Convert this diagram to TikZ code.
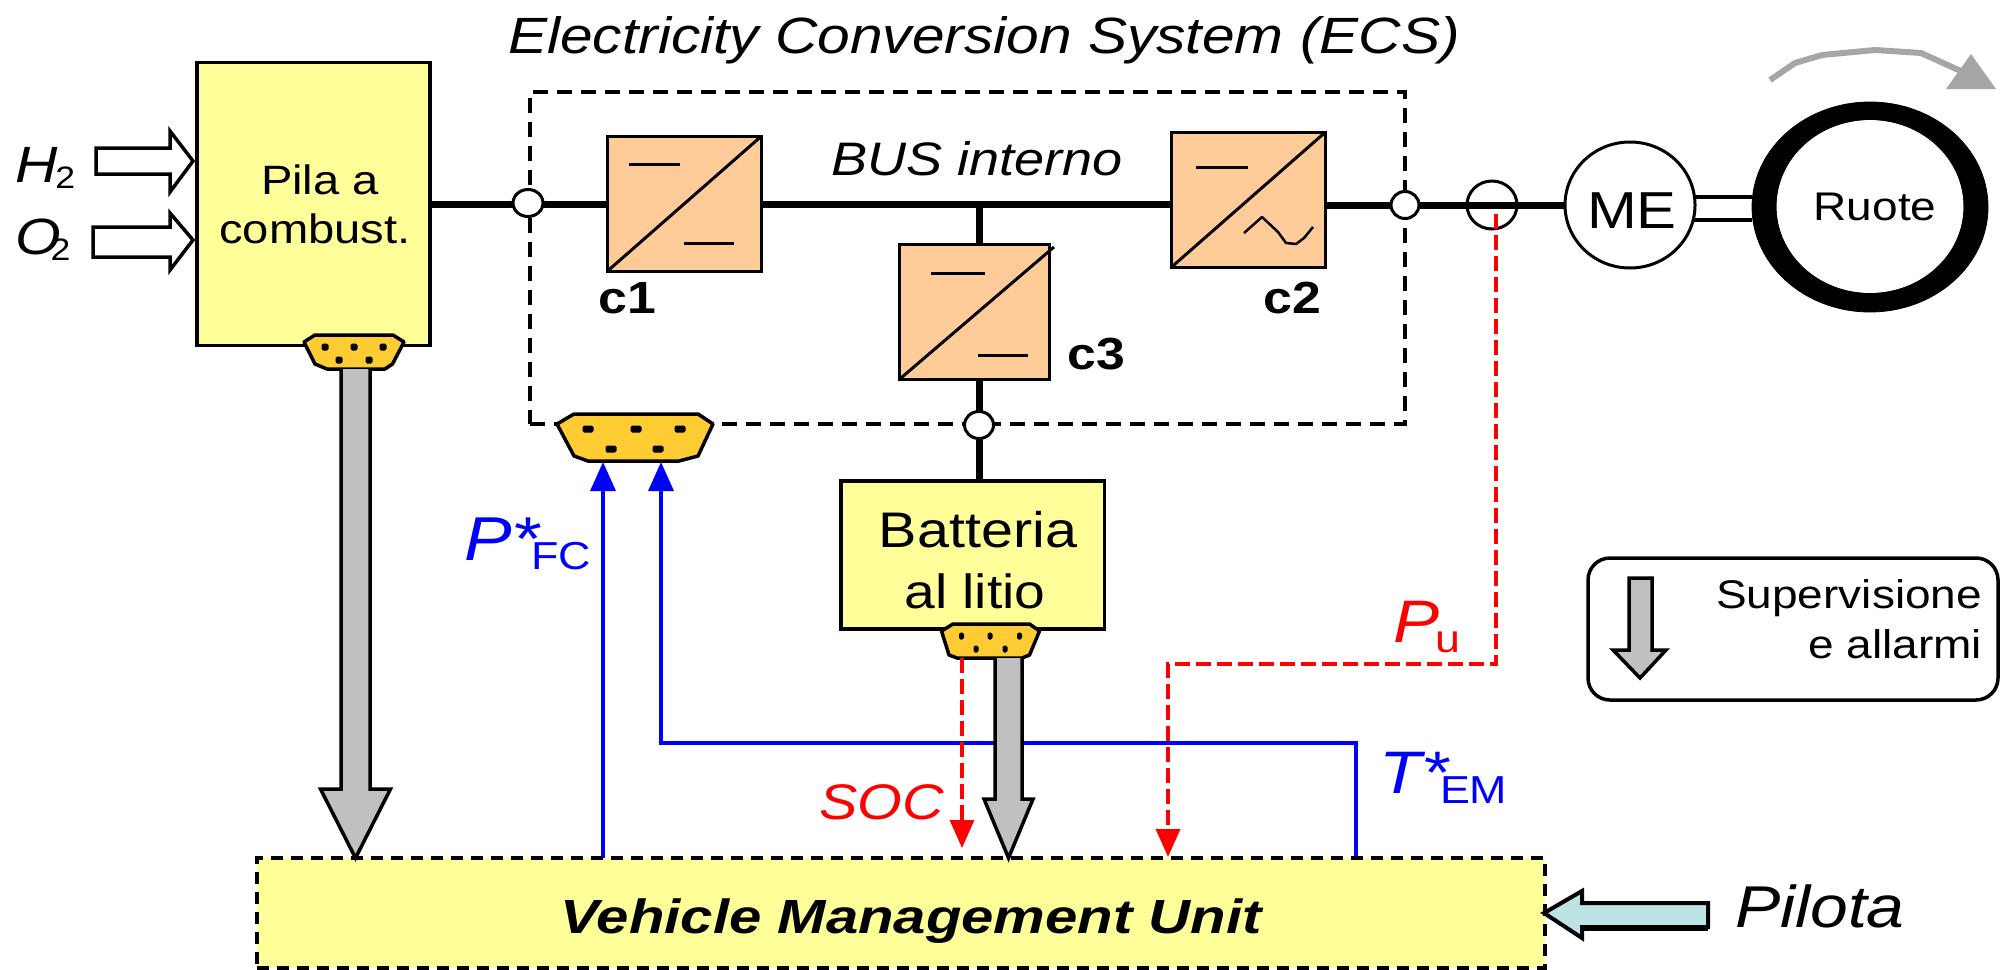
\documentclass[tikz,border=0pt]{standalone}
\usepackage{fontspec}
\setmainfont{Liberation Sans}[FakeStretch=1.15]
\newfontfamily\vmufont{Liberation Sans}[FakeStretch=1.21]
\usetikzlibrary{arrows.meta,backgrounds,calc,shapes.geometric}
\definecolor{cYellow}{HTML}{FFFF99}
\definecolor{cOrange}{HTML}{FFCC99}
\definecolor{cPlug}{HTML}{FFCC33}
\definecolor{cGray}{HTML}{C0C0C0}
\definecolor{cCurve}{HTML}{A6A6A6}
\definecolor{cPilot}{HTML}{BDE3E5}
\newcommand\fpx[1]{\fontsize{#1}{#1}\selectfont}
% gray block arrow from a source coordinate down to a target's top:
% source, target, head length, shaft half width, head half width
\newcommand\blockdown[5]{%
  \draw[blockarrow] let \p1=(#1), \p2=(#2) in
    (\x1-#4,\y1) -- (\x1-#4,\y2+#3) -- (\x1-#5,\y2+#3) -- (\x1,\y2)
    -- (\x1+#5,\y2+#3) -- (\x1+#4,\y2+#3) -- (\x1+#4,\y1) ;}
\newcommand\plug[1]{\draw[plugshape] #1 -- cycle;}
\newcommand\pins[2]{\foreach \px/\py in {#1} \fill[rounded corners=0.8pt] (\px-#2,\py-3.5) rectangle (\px+#2,\py+3.5);}
\tikzset{
  x=0.5pt,y=-0.5pt,
  wh/.style 2 args={minimum width=#1*0.5pt,minimum height=#2*0.5pt,inner sep=0pt,outer sep=0pt},
  yellowbox/.style={draw,fill=cYellow,line width=1.75pt},
  convbox/.style={draw,fill=cOrange,line width=1.5pt},
  ecsbox/.style={draw,line width=2pt,dash pattern=on 7.5pt off 4.5pt},
  vmubox/.style={draw,fill=cYellow,line width=2pt,dash pattern=on 6pt off 4pt},
  junction/.style={draw,fill=white,ellipse,line width=1.5pt},
  sensor/.style={draw,ellipse,line width=1.5pt},
  lbl/.style={inner sep=0pt,outer sep=0pt,anchor=base},
  lblw/.style={inner sep=0pt,outer sep=0pt,anchor=base west},
  lble/.style={inner sep=0pt,outer sep=0pt,anchor=base east},
  powerline/.style={line width=3.5pt},
  bar/.style={line width=1.5pt},
  plugshape/.style={draw,fill=cPlug,line width=1.75pt,line join=round},
  blockarrow/.style={draw,fill=cGray,line width=1.75pt,line join=miter},
  inarrow/.style={draw,fill=white,line width=1.75pt,line join=miter},
  setline/.style={draw=blue,line width=1.75pt,-{Triangle[length=14.5pt,width=12.5pt]}},
  measline/.style={draw=red,line width=1.6pt,dash pattern=on 7.5pt off 3pt,-{Triangle[length=14pt,width=12pt]}},
}
\begin{document}
\begin{tikzpicture}
\useasboundingbox (0,0) rectangle (2000,969);

% main blocks
\node[ecsbox,wh={875}{332}] (ecs) at (967.5,258) {};
\node[yellowbox,wh={233}{283}] (pile) at (313.5,204) {};
\node[convbox,wh={154}{135}] (c1) at (684,204) {};
\node[convbox,wh={154}{135}] (c2) at (1248,200) {};
\node[convbox,wh={149.5}{135}] (c3) at (974.5,311.5) {};
\node[yellowbox,wh={263.5}{148}] (bat) at (972.5,555) {};
\node[vmubox,wh={1288}{110}] (vmu) at (901,913) {};
\node[junction,wh={30}{27}] (j1) at (528,203) {};
\node[junction,wh={28}{27}] (j2) at (1405,205) {};
\node[junction,wh={29}{27}] (j3) at (979,425) {};
\node[sensor,wh={50}{48}] (sens) at (1492,205) {};
\node[draw,fill=white,ellipse,line width=1.5pt,wh={130}{126}] (me) at (1630,205) {};
\node[draw=black,fill=black,ellipse,wh={236}{210}] (wheelout) at (1870,207) {};
\node[draw=white,fill=white,ellipse,wh={186}{172}] (wheel) at (1870,206.5) {};

% power connectors
\begin{scope}[on background layer]
\draw[powerline] (pile.east) -- (c1.west);
\draw[powerline] (c1.east) -- (c2.west |- c1.east);
\coordinate (tap) at (979,204);
\draw[powerline] (tap) -- (c3.north -| tap);
\draw[powerline] (c3.south -| tap) -- (bat.north -| tap);
\draw[powerline] (c2.east |- me.west) -- (me.west);
\coordinate (shaftA) at (1693,197);
\coordinate (shaftB) at (1693,220);
\draw[line width=1.75pt] (shaftA) -- (wheelout.west |- shaftA);
\draw[line width=1.75pt] (shaftB) -- (wheelout.west |- shaftB);
\end{scope}

% converter internals
\draw[bar] (c1.south west) -- (c1.north east);
\draw[bar] (629,164) -- (680,164);
\draw[bar] (684,243) -- (734,243);
\draw[bar] (c2.south west) -- (c2.north east);
\draw[bar] (1196,167) -- (1248,167);
\draw[line width=1.25pt,line join=round] (1244,233) -- (1262,217) -- (1278,232) -- (1286,243) -- (1296,244) -- (1304,238) -- (1313,227);
\draw[bar] (c3.south west) -- (1054,247);
\draw[bar] (931,273) -- (985,273);
\draw[bar] (978,355) -- (1028,355);

% interface plugs
\plug{(304,342) -- (315,335) -- (393,335) -- (404,342) -- (392.5,364) -- (385,369) -- (327,369) -- (315,364)}
\pins{325/347,354/347,383/347,339/360,369/360}{3.5}
\plug{(557,424) -- (574,414) -- (698,414) -- (713,424) -- (698,456) -- (679,461) -- (588,461) -- (574,456)}
\pins{588/429,636/429,680/429,611/449,658/449}{5.5}
\plug{(941.5,631) -- (953,624) -- (1029.5,624) -- (1039.5,631) -- (1029.5,655) -- (1022,658) -- (957,658) -- (949,655)}
\pins{961.5/636,990/636,1019.5/636,976/649,1005/649}{2.5}

% supervision arrows
\coordinate (plug1out) at (355.5,369);
\coordinate (plug3out) at (1008.5,658);
\blockdown{plug1out}{vmu.north}{34.5pt}{7.25pt}{17.5pt}
\blockdown{plug3out}{vmu.north}{29.5pt}{6.75pt}{12.25pt}

% setpoints
\coordinate (pfcin) at (603,462);
\coordinate (temin) at (661,462);
\coordinate (tembend1) at (1356,743);
\coordinate (tembend2) at (661,743);
\begin{scope}[on background layer]
\draw[setline] (vmu.north -| pfcin) -- (pfcin);
\draw[setline] (vmu.north -| tembend1) -- (tembend1) -- (tembend2) -- (temin);
\end{scope}

% measures
\coordinate (soc0) at (962,658);
\coordinate (soc1) at (962,848);
\coordinate (pu0) at (1496,214);
\coordinate (pu1) at (1496,664);
\coordinate (pu2) at (1168,664);
\coordinate (pu3) at (1168,857);
\draw[measline] (soc0) -- (soc1);
\draw[measline] (pu0) -- (pu1) -- (pu2) -- (pu3);

% input arrows
\draw[inarrow] (96,148) -- (170,148) -- (170,131) -- (193,161) -- (170,192) -- (170,174) -- (96,174) -- cycle;
\draw[inarrow] (93,227) -- (170,227) -- (170,213) -- (193,240) -- (170,270) -- (170,257) -- (93,257) -- cycle;
\draw[draw,fill=cPilot,line width=2pt] (1544,913) -- (1582,891) -- (1582,903) -- (1708,903) -- (1708,927) -- (1582,927) -- (1582,938) -- cycle;
\draw[line width=3pt] (1582,928) -- (1708,928);

% rotation arrow
\draw[cCurve,line width=3pt,line join=round] (1770,80) -- (1795,63) -- (1822,55) -- (1875,50) -- (1921,53) -- (1963,72);
\fill[cCurve] (1971,54) -- (1946,89) -- (1996,89) -- cycle;

% legend
\node[draw,line width=1.75pt,rounded corners=11pt,wh={410}{142}] (legend) at (1793,629) {};
\draw[blockarrow] (1629,578) -- (1652,578) -- (1652,650) -- (1666,650) -- (1640,678) -- (1613,650) -- (1629,650) -- cycle;

% texts
\node[lbl,font=\fpx{25.5}\itshape] (title) at (984,53) {Electricity Conversion System (ECS)};
\node[lbl,font=\fpx{23.5}\itshape] (bus) at (977,175) {BUS interno};
\node[lbl,font=\fpx{20.5}] (t1) at (320,194) {Pila a};
\node[lbl,font=\fpx{20.5}] (t2) at (315,243) {combust.};
\node[lblw,font=\fpx{25.5}] (h2) at (15,182) {\itshape H\kern-1pt\raisebox{-3pt}{\fpx{15.5}\upshape 2}};
\node[lblw,font=\fpx{25.5}] (o2) at (15,254) {\itshape O\kern-5pt\raisebox{-3pt}{\fpx{15.5}\upshape 2}};
\node[lbl,font=\fpx{22.5}\bfseries] (lc1) at (627,313) {c1};
\node[lbl,font=\fpx{22.5}\bfseries] (lc2) at (1292,313) {c2};
\node[lbl,font=\fpx{22.5}\bfseries] (lc3) at (1096,369) {c3};
\node[lbl,font=\fpx{26}] (lme) at (1632,228) {ME};
\node[lbl,font=\fpx{20}] (lr) at (1875,220) {Ruote};
\node[lbl,font=\fpx{25}] (lb1) at (978,547) {Batteria};
\node[lbl,font=\fpx{24}] (lb2) at (975,608) {al litio};
\node[lblw,font=\fpx{31}\color{blue}] (lp) at (464,560) {\itshape P*\kern-4pt\raisebox{-4.5pt}{\fpx{19.5}\upshape FC}};
\node[lblw,font=\fpx{30}\color{blue}] (lt) at (1379,793) {\itshape T*\kern-4pt\raisebox{-5pt}{\fpx{19.5}\upshape EM}};
\node[lblw,font=\fpx{30}\color{red}] (lpu) at (1393,642) {\itshape P\kern-2pt\raisebox{-5pt}{\fpx{19.5}\upshape u}};
\node[lble,font=\fpx{25}\itshape\color{red}] (lsoc) at (944,819) {SOC};
\node[lble,font=\fpx{20}] (ls1) at (1982,608) {Supervisione};
\node[lble,font=\fpx{20}] (ls2) at (1982,658) {e allarmi};
\node[lbl,font=\vmufont\fpx{24}\bfseries\itshape] (lv) at (911,933) {Vehicle Management Unit};
\node[lblw,font=\fpx{29.5}\itshape] (lpil) at (1735,927) {Pilota};
\end{tikzpicture}
\end{document}
